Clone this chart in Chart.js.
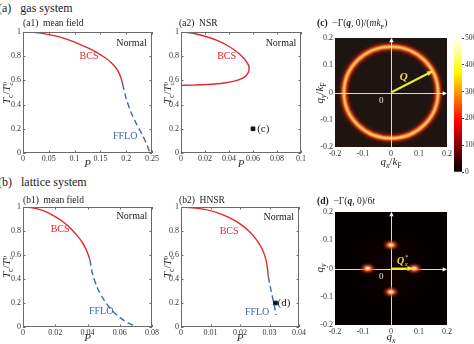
<!DOCTYPE html>
<html>
<head>
<meta charset="utf-8">
<script src="https://cdn.jsdelivr.net/npm/chart.js@4.4.0/dist/chart.umd.min.js"></script>
<style>
  body { margin: 0; width: 474px; height: 344px; overflow: hidden; background: #fff; position: relative;
         font-family: "Liberation Serif", "DejaVu Serif", serif; color: #222; }
  canvas { position: absolute; }
  .lbl { position: absolute; white-space: nowrap; line-height: 1; }
  .ctr { transform: translate(-50%, -50%); }
  .rot { transform: translate(-50%, -50%) rotate(-90deg); }
  .ss { display: inline-block; vertical-align: -3px; font-size: 7px; line-height: 6px; font-style: normal; }
  .ss span { display: block; }
  sub { font-size: 70%; }
</style>
</head>
<body>
<canvas id="a1" width="160" height="147" style="left:0;top:24px"></canvas>
<canvas id="a2" width="152" height="147" style="left:155px;top:24px"></canvas>
<canvas id="c" width="152" height="137" style="left:308px;top:30px"></canvas>
<canvas id="cbar" width="40" height="150" style="left:448px;top:30px"></canvas>
<canvas id="b1" width="160" height="146" style="left:0;top:199px"></canvas>
<canvas id="b2" width="152" height="146" style="left:155px;top:199px"></canvas>
<canvas id="d" width="152" height="141" style="left:308px;top:204px"></canvas>

<div class="lbl" style="left:-2px;top:2px;font-size:12px">(a)&nbsp;&nbsp;&nbsp;gas system</div>
<div class="lbl" style="left:23px;top:19px;font-size:9.5px">(a1)&nbsp;&nbsp;mean field</div>
<div class="lbl" style="left:179px;top:19px;font-size:9.5px">(a2)&nbsp;&nbsp;NSR</div>
<div class="lbl" style="left:317px;top:19px;font-size:9.5px"><b>(c)</b>&nbsp;&nbsp;&minus;&Gamma;(<b><i>q</i></b>, 0)/(<i>mk</i><sub>F</sub>)</div>
<div class="lbl" style="left:-2px;top:176px;font-size:12px">(b)&nbsp;&nbsp;&nbsp;lattice system</div>
<div class="lbl" style="left:23px;top:196px;font-size:9.5px">(b1)&nbsp;&nbsp;mean field</div>
<div class="lbl" style="left:179px;top:196px;font-size:9.5px">(b2)&nbsp;&nbsp;HNSR</div>
<div class="lbl" style="left:317px;top:197px;font-size:9.5px"><b>(d)</b>&nbsp;&nbsp;&minus;&Gamma;(<b><i>q</i></b>, 0)/6<i>t</i></div>

<div class="lbl rot" style="left:8px;top:93px;font-size:11px"><i>T</i><sub>c</sub>/<i>T</i><span class="ss"><span>0</span><span>c</span></span></div>
<div class="lbl rot" style="left:169px;top:93px;font-size:11px"><i>T</i><sub>c</sub>/<i>T</i><span class="ss"><span>0</span><span>c</span></span></div>
<div class="lbl rot" style="left:8px;top:267px;font-size:11px"><i>T</i><sub>c</sub>/<i>T</i><span class="ss"><span>0</span><span>c</span></span></div>
<div class="lbl rot" style="left:169px;top:267px;font-size:11px"><i>T</i><sub>c</sub>/<i>T</i><span class="ss"><span>0</span><span>c</span></span></div>
<div class="lbl rot" style="left:321px;top:93px;font-size:11px"><i>q<sub>y</sub></i>/<i>k</i><sub>F</sub></div>
<div class="lbl ctr" style="left:391px;top:163px;font-size:11px"><i>q<sub>x</sub></i>/<i>k</i><sub>F</sub></div>
<div class="lbl rot" style="left:321px;top:268px;font-size:11px"><i>q<sub>y</sub></i></div>
<div class="lbl ctr" style="left:391px;top:338px;font-size:11px"><i>q<sub>x</sub></i></div>

<script>
// (a1) gas system, mean field
const a1BcsP   = [0, 0.02, 0.04, 0.06, 0.08, 0.10, 0.12, 0.14, 0.16, 0.17, 0.18, 0.185, 0.19, 0.193];
const a1BcsTc  = [1, 0.997, 0.987, 0.970, 0.947, 0.917, 0.880, 0.838, 0.785, 0.750, 0.705, 0.670, 0.620, 0.570];
const a1FfloP  = [0.193, 0.200, 0.210, 0.220, 0.230, 0.240, 0.246];
const a1FfloTc = [0.570, 0.450, 0.330, 0.240, 0.160, 0.070, 0];

// (a2) gas system, NSR (re-entrant BCS line)
const a2BcsP  = [0, 0.01, 0.02, 0.03, 0.04, 0.048, 0.053, 0.056, 0.0568, 0.0558, 0.0525, 0.046, 0.036, 0.022, 0.01, 0];
const a2BcsTc = [1, 0.99, 0.965, 0.93, 0.88, 0.825, 0.775, 0.73, 0.70, 0.66, 0.625, 0.598, 0.579, 0.566, 0.561, 0.559];
const a2MarkP = [0.06];
const a2MarkTc = [0.2];

// (b1) lattice system, mean field
const b1BcsP   = [0, 0.005, 0.01, 0.015, 0.02, 0.025, 0.03, 0.034, 0.037, 0.039, 0.0405, 0.0415];
const b1BcsTc  = [1, 0.995, 0.98, 0.955, 0.92, 0.875, 0.815, 0.755, 0.70, 0.65, 0.60, 0.56];
const b1FfloP  = [0.0415, 0.043, 0.046, 0.050, 0.055, 0.060, 0.065, 0.071];
const b1FfloTc = [0.56, 0.45, 0.33, 0.23, 0.14, 0.08, 0.035, 0];

// (b2) lattice system, HNSR
const b2BcsP   = [0, 0.004, 0.008, 0.012, 0.016, 0.02, 0.023, 0.0255, 0.0275, 0.0287, 0.0293, 0.0296];
const b2BcsTc  = [1, 0.993, 0.98, 0.955, 0.915, 0.86, 0.80, 0.73, 0.65, 0.57, 0.49, 0.42];
const b2FfloP  = [0.0296, 0.0303, 0.031, 0.0317, 0.0322];
const b2FfloTc = [0.42, 0.33, 0.25, 0.17, 0.10];
const b2MarkP  = [0.032];
const b2MarkTc = [0.2];

// (c) gas vertex: ring of maxima at |q| = Q
const ringRadius = 0.168;
const cArrowX = [0, 0.148];
const cArrowY = [0, 0.078];

// (d) lattice vertex: four peaks at (+-Qx*, 0), (0, +-Qx*)
const spotQx = [0.083, -0.083, 0, 0];
const spotQy = [0, 0, 0.083, -0.083];
const dArrowX = [0, 0.078];
const dArrowY = [0, 0];

// colour bar
const cbarMax = 5000;
const cbarStep = 1000;

const RED = '#e0282e';
const BLUE = '#3c66b4';
const SERIF = '"Liberation Serif", "DejaVu Serif", serif';

Chart.defaults.font.family = SERIF;
Chart.defaults.font.size = 8;
Chart.defaults.color = '#333';
Chart.defaults.animation = false;

const pts = (xs, ys) => xs.map((x, i) => ({ x: x, y: ys[i] }));
const fmt = v => String(Number(v.toFixed(4)));
const tickFont = { family: SERIF, size: 8 };

const framePlugin = {
    id: 'frame',
    afterDatasetsDraw(chart, args, opts) {
        const { ctx, chartArea: a, scales } = chart;
        ctx.save();
        ctx.strokeStyle = opts.color || '#6a6a6a';
        ctx.lineWidth = 1;
        ctx.strokeRect(Math.round(a.left) + 0.5, Math.round(a.top) + 0.5,
            Math.round(a.width) - 1, Math.round(a.height) - 1);
        const t = 2.5;
        ctx.beginPath();
        scales.x.ticks.forEach((tk, i) => {
            const px = Math.round(scales.x.getPixelForTick(i)) + 0.5;
            ctx.moveTo(px, a.bottom); ctx.lineTo(px, a.bottom - t);
            ctx.moveTo(px, a.top); ctx.lineTo(px, a.top + t);
        });
        scales.y.ticks.forEach((tk, i) => {
            const py = Math.round(scales.y.getPixelForTick(i)) + 0.5;
            ctx.moveTo(a.left, py); ctx.lineTo(a.left + t, py);
            ctx.moveTo(a.right, py); ctx.lineTo(a.right - t, py);
        });
        ctx.stroke();
        ctx.restore();
    }
};

// text labels placed in data coordinates; optional sub/superscript
const notesPlugin = {
    id: 'notes',
    afterDatasetsDraw(chart, args, opts) {
        const { ctx, scales: { x, y } } = chart;
        ctx.save();
        (opts.items || []).forEach(n => {
            const size = n.size || 10;
            ctx.font = `${n.style || ''} ${size}px ${SERIF}`;
            ctx.fillStyle = n.color || '#222';
            ctx.textAlign = n.align || 'center';
            ctx.textBaseline = 'middle';
            const px = x.getPixelForValue(n.x), py = y.getPixelForValue(n.y);
            ctx.fillText(n.text, px, py);
            if (n.sub || n.sup) {
                const w = ctx.measureText(n.text).width;
                const sx = (n.align === 'left') ? px + w : px + w / 2;
                ctx.font = `italic ${size * 0.65}px ${SERIF}`;
                ctx.textAlign = 'left';
                if (n.sup) ctx.fillText(n.sup, sx + 0.5, py - size * 0.35);
                if (n.sub) ctx.fillText(n.sub, sx + 0.5, py + size * 0.3);
            }
        });
        ctx.restore();
    }
};

function phaseChart(id, opts) {
    const datasets = [{
        data: pts(opts.bcsP, opts.bcsTc),
        borderColor: RED, borderWidth: 1.4, showLine: true, pointRadius: 0, tension: 0.35
    }];
    if (opts.ffloP) {
        datasets.push({
            data: pts(opts.ffloP, opts.ffloTc),
            borderColor: BLUE, borderWidth: 1.4, borderDash: [6, 3.5], showLine: true, pointRadius: 0, tension: 0.3
        });
    }
    if (opts.markP) {
        datasets.push({
            data: pts(opts.markP, opts.markTc),
            pointStyle: 'rect', pointRadius: 2.6, backgroundColor: '#111', borderColor: '#111', showLine: false
        });
    }
    return new Chart(document.getElementById(id), {
        type: 'scatter',
        data: { datasets: datasets },
        plugins: [framePlugin, notesPlugin],
        options: {
            responsive: false,
            layout: { padding: { top: 8, right: opts.padRight, left: 0, bottom: 0 } },
            plugins: {
                legend: { display: false },
                tooltip: { enabled: false },
                notes: { items: opts.notes }
            },
            scales: {
                x: {
                    type: 'linear', min: 0, max: opts.xMax,
                    grid: { display: false, drawTicks: false }, border: { display: false },
                    ticks: { stepSize: opts.xStep, padding: 1, callback: fmt, maxRotation: 0, autoSkip: false, font: tickFont },
                    title: { display: true, text: 'P', font: { family: SERIF, size: 11, style: 'italic' }, padding: 0, color: '#333' },
                    afterFit: s => { s.height = 18; }
                },
                y: {
                    type: 'linear', min: 0, max: 1,
                    grid: { display: false, drawTicks: false }, border: { display: false },
                    ticks: { stepSize: 0.2, padding: 2, callback: fmt, font: tickFont },
                    afterFit: s => { s.width = opts.yWidth; }
                }
            }
        }
    });
}

phaseChart('a1', {
    bcsP: a1BcsP, bcsTc: a1BcsTc, ffloP: a1FfloP, ffloTc: a1FfloTc,
    xMax: 0.25, xStep: 0.05, yWidth: 23, padRight: 8,
    notes: [
        { x: 0.128, y: 0.795, text: 'BCS', color: RED },
        { x: 0.198, y: 0.14, text: 'FFLO', color: BLUE },
        { x: 0.24, y: 0.91, text: 'Normal', align: 'right' }
    ]
});

phaseChart('a2', {
    bcsP: a2BcsP, bcsTc: a2BcsTc, markP: a2MarkP, markTc: a2MarkTc,
    xMax: 0.1, xStep: 0.02, yWidth: 26, padRight: 3,
    notes: [
        { x: 0.038, y: 0.795, text: 'BCS', color: RED },
        { x: 0.0635, y: 0.2, text: '(c)', align: 'left', size: 11 },
        { x: 0.096, y: 0.91, text: 'Normal', align: 'right' }
    ]
});

phaseChart('b1', {
    bcsP: b1BcsP, bcsTc: b1BcsTc, ffloP: b1FfloP, ffloTc: b1FfloTc,
    xMax: 0.08, xStep: 0.02, yWidth: 23, padRight: 8,
    notes: [
        { x: 0.023, y: 0.81, text: 'BCS', color: RED },
        { x: 0.0485, y: 0.13, text: 'FFLO', color: BLUE },
        { x: 0.077, y: 0.92, text: 'Normal', align: 'right' }
    ]
});

phaseChart('b2', {
    bcsP: b2BcsP, bcsTc: b2BcsTc, ffloP: b2FfloP, ffloTc: b2FfloTc, markP: b2MarkP, markTc: b2MarkTc,
    xMax: 0.04, xStep: 0.01, yWidth: 26, padRight: 3,
    notes: [
        { x: 0.0163, y: 0.80, text: 'BCS', color: RED },
        { x: 0.0258, y: 0.125, text: 'FFLO', color: BLUE },
        { x: 0.0383, y: 0.915, text: 'Normal', align: 'right' },
        { x: 0.0327, y: 0.2, text: '(d)', align: 'left', size: 11 }
    ]
});

// heat-map style panels: background, white axes, peaks, yellow arrow
function arrowHead(ctx, x0, y0, x1, y1, size, color) {
    const ang = Math.atan2(y1 - y0, x1 - x0);
    ctx.fillStyle = color;
    ctx.beginPath();
    ctx.moveTo(x1, y1);
    ctx.lineTo(x1 - size * Math.cos(ang - 0.45), y1 - size * Math.sin(ang - 0.45));
    ctx.lineTo(x1 - size * Math.cos(ang + 0.45), y1 - size * Math.sin(ang + 0.45));
    ctx.closePath();
    ctx.fill();
}

const mapPlugin = {
    id: 'map',
    beforeDatasetsDraw(chart, args, opts) {
        const { ctx, chartArea: a, scales: { x, y } } = chart;
        ctx.save();
        ctx.beginPath(); ctx.rect(a.left, a.top, a.width, a.height); ctx.clip();
        ctx.fillStyle = opts.bg;
        ctx.fillRect(a.left, a.top, a.width, a.height);
        const cx = x.getPixelForValue(0), cy = y.getPixelForValue(0);
        if (opts.ring) {
            const rx = x.getPixelForValue(opts.ring) - cx;
            const ry = cy - y.getPixelForValue(opts.ring);
            const layers = [[13, 'rgba(110,20,5,0.25)'], [9, 'rgba(170,35,10,0.45)'], [6, 'rgba(220,70,20,0.75)'],
                            [3.6, '#f08a36'], [1.6, '#ffc46a']];
            layers.forEach(([w, c]) => {
                ctx.beginPath();
                ctx.ellipse(cx, cy, rx, ry, 0, 0, Math.PI * 2);
                ctx.lineWidth = w; ctx.strokeStyle = c; ctx.stroke();
            });
        }
        if (opts.glow) {
            const g = ctx.createRadialGradient(cx, cy, 0, cx, cy, 40);
            g.addColorStop(0, 'rgba(50,8,0,0.35)');
            g.addColorStop(1, 'rgba(30,4,0,0)');
            ctx.fillStyle = g;
            ctx.fillRect(a.left, a.top, a.width, a.height);
        }
        // white coordinate axes through the origin
        ctx.strokeStyle = 'rgba(255,255,255,0.85)';
        ctx.lineWidth = 1;
        const xe = x.getPixelForValue(0.19), ye = y.getPixelForValue(0.19);
        ctx.beginPath();
        ctx.moveTo(a.left, Math.round(cy) + 0.5); ctx.lineTo(xe, Math.round(cy) + 0.5);
        ctx.moveTo(Math.round(cx) + 0.5, a.bottom); ctx.lineTo(Math.round(cx) + 0.5, ye);
        ctx.stroke();
        arrowHead(ctx, cx, cy, xe + 3, Math.round(cy) + 0.5, 5, '#fff');
        arrowHead(ctx, cx, cy, Math.round(cx) + 0.5, ye - 3, 5, '#fff');
        ctx.font = `9px ${SERIF}`;
        ctx.fillStyle = '#eee';
        ctx.textAlign = 'center'; ctx.textBaseline = 'middle';
        ctx.fillText('0', x.getPixelForValue(-0.035), y.getPixelForValue(-0.03));
        ctx.restore();
    },
    afterDatasetsDraw(chart, args, opts) {
        const { ctx, chartArea: a } = chart;
        ctx.save();
        ctx.beginPath(); ctx.rect(a.left, a.top, a.width, a.height); ctx.clip();
        if (opts.spots !== undefined) {
            chart.getDatasetMeta(opts.spots).data.forEach(el => {
                ctx.save();
                ctx.translate(el.x, el.y);
                ctx.scale(1.45, 1);
                const g = ctx.createRadialGradient(0, 0, 0, 0, 0, 6);
                g.addColorStop(0, '#fff6dc');
                g.addColorStop(0.22, '#ffc070');
                g.addColorStop(0.5, 'rgba(225,70,25,0.75)');
                g.addColorStop(1, 'rgba(120,10,0,0)');
                ctx.fillStyle = g;
                ctx.beginPath(); ctx.arc(0, 0, 6, 0, Math.PI * 2); ctx.fill();
                ctx.restore();
            });
        }
        const arr = chart.getDatasetMeta(opts.arrow).data;
        const p0 = arr[0], p1 = arr[arr.length - 1];
        arrowHead(ctx, p0.x, p0.y, p1.x, p1.y, 6, '#eaea3a');
        ctx.restore();
    }
};

function mapChart(id, datasets, mapOpts) {
    return new Chart(document.getElementById(id), {
        type: 'scatter',
        data: { datasets: datasets },
        plugins: [mapPlugin, notesPlugin],
        options: {
            responsive: false,
            layout: { padding: { top: 8, right: 13, left: 0, bottom: 0 } },
            plugins: {
                legend: { display: false },
                tooltip: { enabled: false },
                map: mapOpts,
                notes: { items: mapOpts.notes }
            },
            scales: {
                x: {
                    type: 'linear', min: -0.2, max: 0.2,
                    grid: { display: false, drawTicks: false }, border: { display: false },
                    ticks: { stepSize: 0.1, padding: 2, callback: fmt, maxRotation: 0, font: tickFont },
                    afterFit: s => { s.height = 20; }
                },
                y: {
                    type: 'linear', min: -0.2, max: 0.2,
                    grid: { display: false, drawTicks: false }, border: { display: false },
                    ticks: { stepSize: 0.1, padding: 2, callback: fmt, font: tickFont },
                    afterFit: s => { s.width = 27; }
                }
            }
        }
    });
}

mapChart('c', [
    { data: pts(cArrowX, cArrowY), showLine: true, borderColor: '#eaea3a', borderWidth: 2, pointRadius: 0 }
], {
    bg: '#1e1411', ring: ringRadius, arrow: 0,
    notes: [{ x: 0.045, y: 0.058, text: 'Q', color: '#f0e040', size: 11, style: 'italic bold' }]
});

mapChart('d', [
    { data: pts(spotQx, spotQy), showLine: false, pointRadius: 0 },
    { data: pts(dArrowX, dArrowY), showLine: true, borderColor: '#eaea3a', borderWidth: 2, pointRadius: 0 }
], {
    bg: '#050000', glow: true, spots: 0, arrow: 1,
    notes: [{ x: 0.034, y: 0.026, text: 'Q', sub: 'x', sup: '*', color: '#f0e040', size: 10, style: 'italic bold' }]
});

// colour bar ("hot" map)
new Chart(document.getElementById('cbar'), {
    type: 'bar',
    data: {
        labels: [''],
        datasets: [{
            data: [cbarMax],
            categoryPercentage: 1, barPercentage: 1, borderWidth: 0,
            backgroundColor: ctx => {
                const a = ctx.chart.chartArea;
                if (!a) return '#000';
                const g = ctx.chart.ctx.createLinearGradient(0, a.bottom, 0, a.top);
                g.addColorStop(0, '#000000');
                g.addColorStop(0.375, '#ff0000');
                g.addColorStop(0.75, '#ffff00');
                g.addColorStop(1, '#ffffff');
                return g;
            }
        }]
    },
    options: {
        responsive: false,
        layout: { padding: { top: 8, bottom: 8, left: 6, right: 0 } },
        plugins: { legend: { display: false }, tooltip: { enabled: false } },
        scales: {
            x: { display: false },
            y: {
                position: 'right', min: 0, max: cbarMax,
                grid: { drawOnChartArea: false, drawTicks: true, tickLength: 2, color: '#444' },
                border: { display: false },
                ticks: { stepSize: cbarStep, padding: 1, font: { family: SERIF, size: 7.5 }, callback: v => String(v) },
                afterFit: s => { s.width = 26; }
            }
        }
    }
});
</script>
</body>
</html>
